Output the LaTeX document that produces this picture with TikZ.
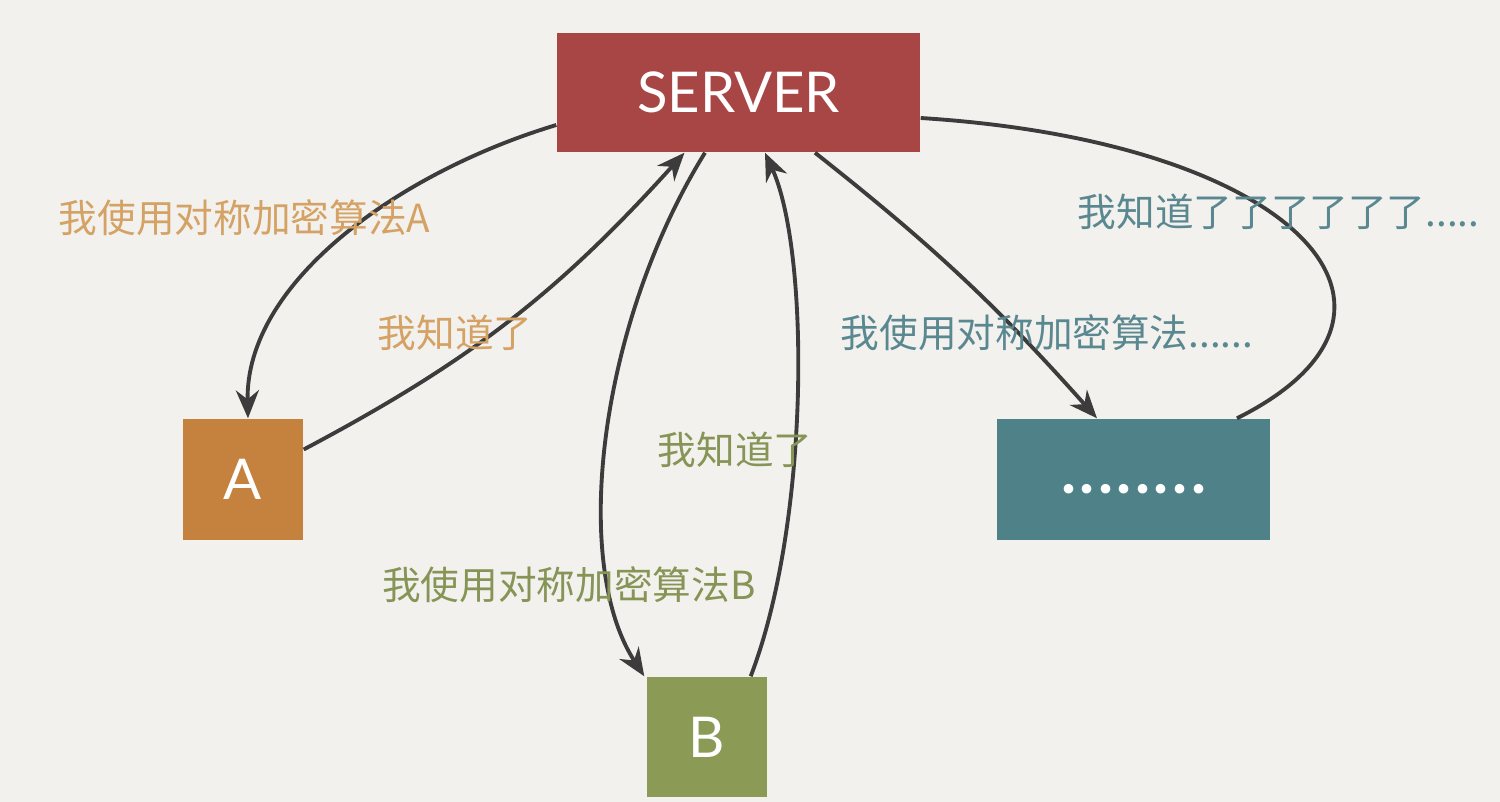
\documentclass[tikz,border=0pt]{standalone}
\usepackage{fontspec}
\usetikzlibrary{arrows.meta,positioning}
\newfontfamily\cjk{Noto Sans CJK SC}
\newfontfamily\boxfont{Lato}
\definecolor{bg}{RGB}{243,241,238}
\definecolor{csrv}{RGB}{168,70,70}
\definecolor{ca}{RGB}{196,130,62}
\definecolor{cb}{RGB}{139,154,84}
\definecolor{cc}{RGB}{79,129,137}
\definecolor{ta}{RGB}{212,162,100}
\definecolor{tb}{RGB}{134,148,86}
\definecolor{tc}{RGB}{90,136,144}
\definecolor{wire}{RGB}{60,60,60}

\begin{document}
\begin{tikzpicture}[
        blk/.style={rectangle, inner sep=0pt, text=white, font=\boxfont\fontsize{16}{18}\selectfont},
        lbl/.style={font=\cjk\fontsize{11}{13}\selectfont, inner sep=0pt},
        conn/.style={draw=wire, line width=1.1pt},
        tip/.style={-{Stealth[length=2.8mm, width=2.3mm]}},
    ]
        % Background and bounds
        \fill[bg] (0, 0) rectangle (15, 8.02);

        % Server and clients
        \node[blk, fill=csrv, minimum width=3.63cm, minimum height=1.19cm] (SRV) at (7.385, 7.095) {SERVER};
        \node[blk, fill=ca, minimum width=1.2cm, minimum height=1.21cm] (NODEA) at (2.43, 3.225) {A};
        \node[blk, fill=cb, minimum width=1.2cm, minimum height=1.2cm] (NODEB) at (7.07, 0.65) {B};
        \node[blk, fill=cc, minimum width=2.73cm, minimum height=1.21cm, font=\boxfont\bfseries\fontsize{18}{18}\selectfont] (NODEC) at (11.335, 3.225) {\raisebox{-2.8mm}{.\kern1pt.\kern1pt.\kern1pt.\kern1pt.\kern1pt.\kern1pt.\kern1pt.}};

        % Client A exchange
        \draw[conn, tip] ([yshift=-3.25mm]SRV.west) .. controls (4.0, 6.3) and (2.45, 5.2) .. ([xshift=0.5mm]NODEA.north);
        \draw[conn, tip] ([yshift=3mm]NODEA.east) to[bend right=10] ([xshift=-5.4mm]SRV.south);
        \node[lbl, text=ta] (LA1) at (2.445, 5.84) {我使用对称加密算法A};
        \node[lbl, text=ta] (LA2) at (4.55, 4.69) {我知道了};

        % Client B exchange
        \draw[conn, tip] ([xshift=-3.35mm]SRV.south) .. controls (6.0, 4.8) and (5.7, 2.4) .. ([xshift=-0.2mm]NODEB.north west);
        \draw[conn, tip] ([xshift=-1.7mm]NODEB.north east) .. controls (8.1, 2.8) and (8.1, 5.5) .. ([xshift=2.65mm]SRV.south);
        \node[lbl, text=tb] (LB1) at (5.69, 2.17) {我使用对称加密算法B};
        \node[lbl, text=tb] (LB2) at (7.35, 3.52) {我知道了};

        % Other clients
        \draw[conn, tip] ([xshift=7.65mm]SRV.south) to[bend left=5] ([xshift=-3.65mm]NODEC.north);
        \draw[conn] ([yshift=-2.55mm]SRV.east) .. controls (13.0, 6.6) and (14.5, 4.9) .. ([xshift=10.35mm]NODEC.north);
        \node[lbl, text=tc, anchor=west] (LC1) at (8.40, 4.69) {我使用对称加密算法......};
        \node[lbl, text=tc, anchor=west] (LC2) at (10.77, 5.90) {我知道了了了了了了.....};
    \end{tikzpicture}
\end{document}
